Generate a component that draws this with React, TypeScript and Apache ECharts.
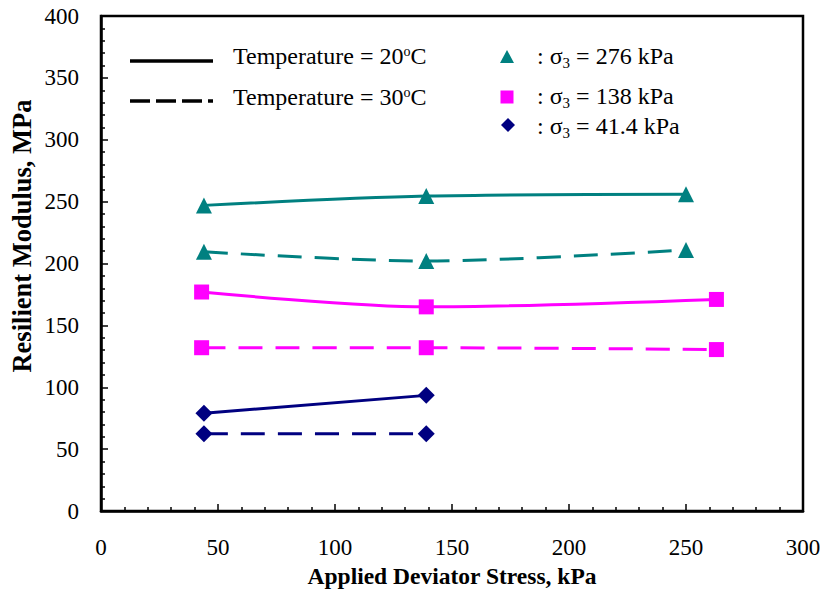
import React, { useEffect, useRef } from "react";
import * as echarts from "echarts";

const xTeal = [44, 139, 250];
const teal20 = [247, 254.5, 256];
const teal30 = [209.5, 202, 211];
const xMagenta = [43, 139, 263];
const magenta20 = [177, 165, 171];
const magenta30 = [132, 132, 130.5];
const xNavy = [44, 139];
const navy20 = [79, 93.5];
const navy30 = [62.5, 62.5];

const FONT = "'Liberation Serif', 'Times New Roman', serif";
const TEAL = "#008080";
const MAGENTA = "#FF00FF";
const NAVY = "#000080";

const pairs = (xs: number[], ys: number[]) => xs.map((x, i) => [x, ys[i]]);

export default function App() {
  const ref = useRef<HTMLDivElement>(null);
  useEffect(() => {
    if (!ref.current) return;
    document.body.style.margin = "0";
    const chart = echarts.init(ref.current, undefined, { renderer: "svg" });
    const mk = (
      name: string,
      data: number[][],
      color: string,
      symbol: string,
      size: number,
      dashed: boolean
    ) => ({
      name,
      type: "line",
      data,
      smooth: 0.3,
      symbol,
      symbolSize: size,
      itemStyle: { color },
      lineStyle: {
        color,
        width: 3,
        type: dashed ? [24, 13] : "solid",
      },
    });
    const FS = 24;
    const legendText = (y: number, text: string, x: number) => ({
      type: "text",
      x,
      y,
      style: {
        text,
        font: `${FS}px ${FONT}`,
        fontFamily: FONT,
        fontSize: FS,
        fill: "#000",
        textAlign: "left",
        textVerticalAlign: "middle",
        verticalAlign: "middle",
        rich: {
          n: { font: `${FS}px ${FONT}`, fontFamily: FONT, fontSize: FS, lineHeight: 28 },
          sup: { font: `14px ${FONT}`, fontFamily: FONT, fontSize: 14, lineHeight: 28, verticalAlign: "top", padding: [2, 0, 0, 0] },
          sub: { font: `15px ${FONT}`, fontFamily: FONT, fontSize: 15, lineHeight: 28, verticalAlign: "bottom" },
        },
      },
    });
    chart.setOption({
      animation: false,
      backgroundColor: "#fff",
      grid: {
        left: 101,
        right: 21,
        top: 16,
        bottom: 80,
        show: true,
        borderColor: "#000",
        borderWidth: 2.5,
        backgroundColor: "transparent",
      },
      xAxis: {
        type: "value",
        min: 0,
        max: 300,
        interval: 50,
        name: "Applied Deviator Stress, kPa",
        nameLocation: "middle",
        nameGap: 52,
        nameTextStyle: { fontFamily: FONT, fontSize: 23.5, fontWeight: "bold", color: "#000" },
        axisLine: { show: true, lineStyle: { color: "#000", width: 2.5 } },
        axisTick: { show: true, inside: true, length: 7, lineStyle: { color: "#000", width: 1.5 } },
        minorTick: { show: true, splitNumber: 5, length: 4, lineStyle: { color: "#000", width: 1.5 } },
        splitLine: { show: false },
        axisLabel: { fontFamily: FONT, fontSize: 23, color: "#000", margin: 25 },
      },
      yAxis: {
        type: "value",
        min: 0,
        max: 400,
        interval: 50,
        axisLine: { show: true, lineStyle: { color: "#000", width: 2.5 } },
        axisTick: { show: true, inside: true, length: 7, lineStyle: { color: "#000", width: 1.5 } },
        minorTick: { show: true, splitNumber: 5, length: 4, lineStyle: { color: "#000", width: 1.5 } },
        splitLine: { show: false },
        axisLabel: { fontFamily: FONT, fontSize: 23, color: "#000", margin: 22 },
      },
      series: [
        mk("276 kPa, 20°C", pairs(xTeal, teal20), TEAL, "triangle", 16, false),
        mk("276 kPa, 30°C", pairs(xTeal, teal30), TEAL, "triangle", 16, true),
        mk("138 kPa, 20°C", pairs(xMagenta, magenta20), MAGENTA, "rect", 15, false),
        mk("138 kPa, 30°C", pairs(xMagenta, magenta30), MAGENTA, "rect", 15, true),
        mk("41.4 kPa, 20°C", pairs(xNavy, navy20), NAVY, "diamond", 17, false),
        mk("41.4 kPa, 30°C", pairs(xNavy, navy30), NAVY, "diamond", 17, true),
      ],
      graphic: [
        {
          type: "text",
          x: 22,
          y: 236,
          rotation: Math.PI / 2,
          style: {
            text: "Resilient Modulus, MPa",
            font: `bold 26.5px ${FONT}`,
            fontFamily: FONT,
            fontSize: 26.5,
            fontWeight: "bold",
            fill: "#000",
            textAlign: "center",
            textVerticalAlign: "middle",
            verticalAlign: "middle",
          },
        },
        {
          type: "line",
          shape: { x1: 130, y1: 61, x2: 213, y2: 61 },
          style: { stroke: "#000", lineWidth: 3.5 },
        },
        {
          type: "line",
          shape: { x1: 130, y1: 101, x2: 213, y2: 101 },
          style: { stroke: "#000", lineWidth: 3.5, lineDash: [20, 6] },
        },
        legendText(56, "{n|Temperature = 20}{sup|o}{n|C}", 233),
        legendText(97, "{n|Temperature = 30}{sup|o}{n|C}", 233),
        {
          type: "polygon",
          shape: { points: [[507, 50], [514, 63], [500, 63]] },
          style: { fill: TEAL },
        },
        {
          type: "rect",
          shape: { x: 500.5, y: 90.5, width: 13, height: 13 },
          style: { fill: MAGENTA },
        },
        {
          type: "polygon",
          shape: { points: [[508, 118], [515, 125], [508, 132], [501, 125]] },
          style: { fill: NAVY },
        },
        legendText(56, "{n|: σ}{sub|3}{n| = 276 kPa}", 537),
        legendText(96, "{n|: σ}{sub|3}{n| = 138 kPa}", 537),
        legendText(126, "{n|: σ}{sub|3}{n| = 41.4 kPa}", 537),
      ],
    });
    return () => chart.dispose();
  }, []);
  return <div ref={ref} style={{ width: 824, height: 593 }} />;
}
